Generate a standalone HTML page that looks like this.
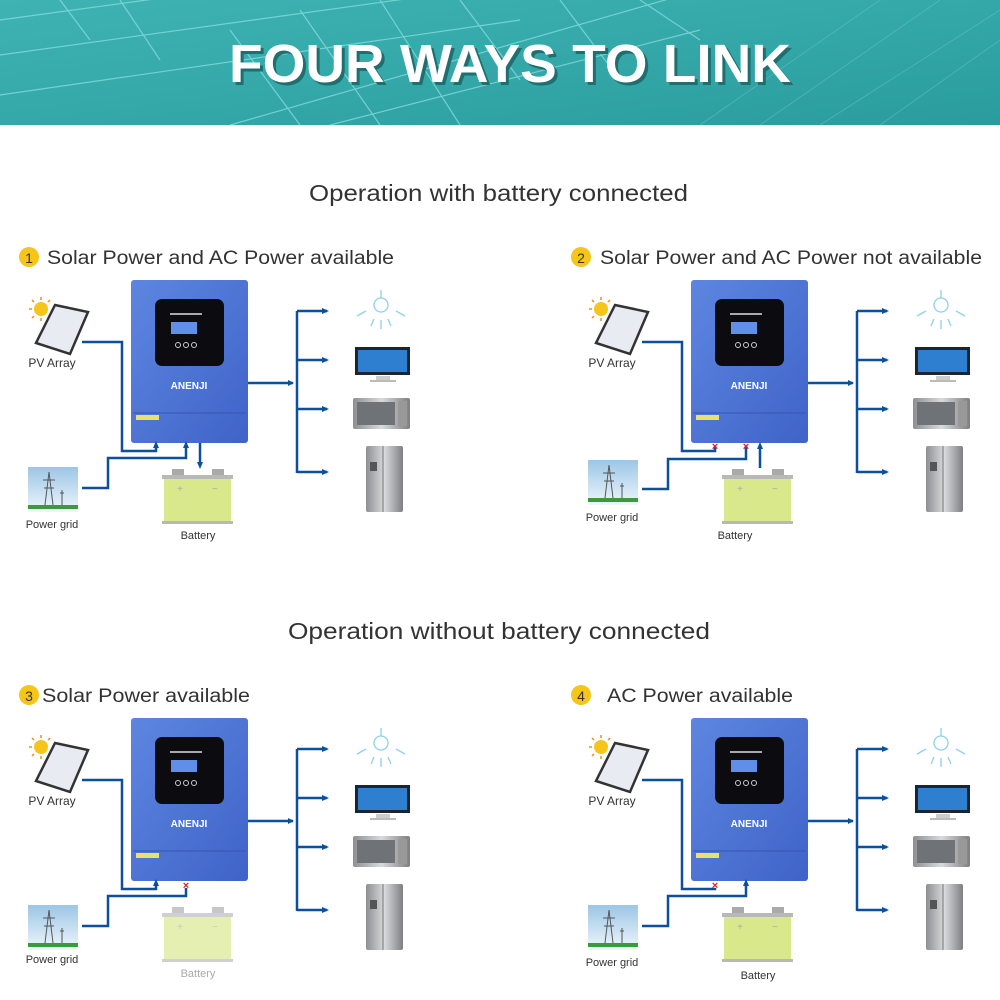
<!DOCTYPE html>
<html><head><meta charset="utf-8"><style>
html,body{margin:0;padding:0;background:#fff;}
svg{display:block;}
text{font-family:"Liberation Sans",sans-serif;}
</style></head><body>
<svg width="1000" height="1000" viewBox="0 0 1000 1000" xmlns="http://www.w3.org/2000/svg">
<defs>
 <linearGradient id="tealg" x1="0" y1="0" x2="1" y2="1">
  <stop offset="0" stop-color="#3fb3b3"/><stop offset="1" stop-color="#2a9c9e"/>
 </linearGradient>
 <linearGradient id="invg" x1="0" y1="0" x2="1" y2="1">
  <stop offset="0" stop-color="#5d86e0"/><stop offset="1" stop-color="#3f63c8"/>
 </linearGradient>
 <linearGradient id="skyg" x1="0" y1="0" x2="0" y2="1">
  <stop offset="0" stop-color="#9cc6e6"/><stop offset="1" stop-color="#eef6fb"/>
 </linearGradient>
 <linearGradient id="metal" x1="0" y1="0" x2="1" y2="0">
  <stop offset="0" stop-color="#8d8f93"/><stop offset="0.5" stop-color="#d9dadc"/><stop offset="1" stop-color="#7d7f83"/>
 </linearGradient>
 <marker id="ar" markerWidth="6" markerHeight="6" refX="5" refY="3" orient="auto" markerUnits="userSpaceOnUse">
  <path d="M0,0 L6,3 L0,6 z" fill="#0c4f9a"/>
 </marker>
 <g id="inv">
  <rect x="131" y="280" width="117" height="163" rx="3" fill="url(#invg)"/>
  <rect x="155" y="299" width="69" height="67" rx="7" fill="#0b0b10"/>
  <rect x="171" y="322" width="26" height="12" fill="#5f8fe8"/>
  <rect x="170" y="313" width="32" height="2" fill="#aaa"/>
  <circle cx="178" cy="345" r="2.5" fill="none" stroke="#ccc"/><circle cx="186" cy="345" r="2.5" fill="none" stroke="#ccc"/><circle cx="194" cy="345" r="2.5" fill="none" stroke="#ccc"/>
  <text x="189" y="389" font-size="10" font-weight="bold" fill="#fff" text-anchor="middle">ANENJI</text>
  <line x1="133" y1="413" x2="246" y2="413" stroke="#3556b0" stroke-width="1"/>
  <rect x="136" y="415" width="23" height="5" fill="#e8e070"/>
 </g>
 <g id="pv">
  <circle cx="41" cy="309" r="7" fill="#f7c51a"/>
  <g stroke="#f28a18" stroke-width="1.5">
   <line x1="41" y1="297" x2="41" y2="300"/><line x1="29" y1="309" x2="32" y2="309"/><line x1="32" y1="300" x2="34" y2="302"/><line x1="50" y1="300" x2="48" y2="302"/><line x1="32" y1="318" x2="34" y2="316"/><line x1="41" y1="321" x2="41" y2="318"/>
  </g>
  <polygon points="55,305 88,312 70,354 36,343" fill="#e8ecf2" stroke="#333" stroke-width="2.5"/>
  <text x="52" y="367" font-size="12" fill="#333" text-anchor="middle">PV Array</text>
 </g>
 <g id="bat">
  <rect x="172" y="469" width="12" height="6" fill="#aaa"/><rect x="212" y="469" width="12" height="6" fill="#aaa"/>
  <rect x="162" y="475" width="71" height="4" fill="#b8b8b8"/>
  <rect x="164" y="479" width="67" height="42" fill="#d8e88a"/>
  <rect x="162" y="521" width="71" height="3" fill="#b8b8b8"/>
  <text x="177" y="492" font-size="10" fill="#aab" >+</text><text x="212" y="492" font-size="10" fill="#aab">−</text>
 </g>
 <g id="loads">
  <path d="M248,383 H293" stroke="#0c4f9a" stroke-width="2.5" fill="none" marker-end="url(#ar)"/>
  <path d="M297,311 V473" stroke="#0c4f9a" stroke-width="2.5" fill="none"/>
  <path d="M297,311 H327 M297,360 H327 M297,409 H327 M297,472 H327" stroke="#0c4f9a" stroke-width="2.5" fill="none"/>
  <path d="M322,308 L329,311 L322,314z M322,357 L329,360 L322,363z M322,406 L329,409 L322,412z M322,469 L329,472 L322,475z" fill="#0c4f9a"/>
  <g stroke="#8fd0ea" stroke-width="1.3" fill="none">
   <circle cx="381" cy="305" r="7"/><line x1="381" y1="290" x2="381" y2="298"/>
   <line x1="357" y1="316" x2="366" y2="311"/><line x1="405" y1="316" x2="396" y2="311"/>
   <line x1="371" y1="326" x2="374" y2="319"/><line x1="391" y1="326" x2="388" y2="319"/><line x1="381" y1="329" x2="381" y2="320"/>
  </g>
  <rect x="355" y="347" width="55" height="28" fill="#1c2430"/><rect x="358" y="350" width="49" height="22" fill="#2f7fd0"/>
  <rect x="376" y="376" width="14" height="4" fill="#ccc"/><rect x="370" y="380" width="26" height="2" fill="#bbb"/>
  <rect x="353" y="398" width="57" height="31" rx="2" fill="url(#metal)"/><rect x="357" y="402" width="38" height="23" fill="#6f7277"/><rect x="398" y="401" width="9" height="25" fill="#999"/>
  <rect x="366" y="446" width="37" height="66" rx="2" fill="url(#metal)"/><line x1="383" y1="446" x2="383" y2="512" stroke="#777"/><rect x="370" y="462" width="7" height="9" fill="#555"/>
 </g>
 <g id="grid">
  <rect x="28" y="467" width="50" height="45" fill="url(#skyg)"/>
  <g stroke="#555" stroke-width="1" fill="none"><path d="M45,505 L49,472 L53,505 M43,480 H55 M44,488 H54"/><path d="M62,505 V490 M60,493 H64"/></g>
  <rect x="28" y="505" width="50" height="4" fill="#3c9a3a"/>
 </g>
</defs>

<!-- header -->
<rect x="0" y="0" width="1000" height="125" fill="url(#tealg)"/>
<g stroke="#8ee3e3" stroke-width="1.2" opacity="0.7" fill="none">
 <path d="M0,20 L440,-40 M0,55 L470,-10 M0,95 L520,20 M230,30 L300,125 M300,10 L380,125 M380,0 L460,125 M120,0 L160,60 M60,0 L90,40 M460,0 L520,80 M560,0 L620,80 M640,0 L700,40 M230,125 L700,-10 M330,125 L700,30"/>
</g>
<g stroke="#6fcccc" stroke-width="0.8" opacity="0.5" fill="none">
 <path d="M700,125 L880,0 M760,125 L940,0 M820,125 L1000,10 M880,125 L1000,40"/>
</g>
<text x="510" y="82" font-size="54" font-weight="bold" fill="#1f6f70" text-anchor="middle" textLength="562" lengthAdjust="spacingAndGlyphs" transform="translate(3,3)">FOUR WAYS TO LINK</text>
<text x="510" y="82" font-size="54" font-weight="bold" fill="#fff" text-anchor="middle" textLength="562" lengthAdjust="spacingAndGlyphs">FOUR WAYS TO LINK</text>

<text x="309" y="201" font-size="23" fill="#333" textLength="379" lengthAdjust="spacingAndGlyphs">Operation with battery connected</text>
<text x="288" y="639" font-size="23" fill="#333" textLength="422" lengthAdjust="spacingAndGlyphs">Operation without  battery connected</text>

<!-- headings -->
<circle cx="29" cy="257" r="10" fill="#f5c518"/><text x="29" y="263" font-size="14" fill="#333" text-anchor="middle">1</text>
<text x="47" y="264" font-size="19" fill="#333" textLength="347" lengthAdjust="spacingAndGlyphs">Solar Power and AC Power available</text>
<circle cx="581" cy="257" r="10" fill="#f5c518"/><text x="581" y="263" font-size="14" fill="#333" text-anchor="middle">2</text>
<text x="600" y="264" font-size="19" fill="#333" textLength="382" lengthAdjust="spacingAndGlyphs">Solar Power and AC Power not available</text>
<circle cx="29" cy="695" r="10" fill="#f5c518"/><text x="29" y="701" font-size="14" fill="#333" text-anchor="middle">3</text>
<text x="42" y="702" font-size="19" fill="#333" textLength="208" lengthAdjust="spacingAndGlyphs">Solar Power available</text>
<circle cx="581" cy="695" r="10" fill="#f5c518"/><text x="581" y="701" font-size="14" fill="#333" text-anchor="middle">4</text>
<text x="607" y="702" font-size="19" fill="#333" textLength="186" lengthAdjust="spacingAndGlyphs">AC Power available</text>

<!-- Panel 1 -->
<use href="#inv"/><use href="#pv"/><use href="#bat"/><use href="#loads"/><use href="#grid"/>
<text x="52" y="528" font-size="11" fill="#333" text-anchor="middle">Power grid</text>
<text x="198" y="539" font-size="11" fill="#333" text-anchor="middle">Battery</text>
<g stroke="#0c4f9a" stroke-width="2.5" fill="none">
 <path d="M82,342 H122 V451 H156 V447"/>
 <path d="M82,488 H108 V458 H186 V447"/>
 <path d="M200,443 V463"/>
</g>
<path d="M153,448 L156,441 L159,448z M183,448 L186,441 L189,448z M197,462 L200,469 L203,462z" fill="#0c4f9a"/>

<!-- Panel 2 -->
<g transform="translate(560,0)">
 <use href="#inv"/><use href="#pv"/><use href="#bat"/><use href="#loads"/>
 <use href="#grid" transform="translate(0,-7)"/>
 <g stroke="#0c4f9a" stroke-width="2.5" fill="none">
  <path d="M82,342 H122 V451 H155 V446"/>
  <path d="M82,489 H108 V459 H186 V446"/>
  <path d="M200,468 V448"/>
 </g>
 <path d="M197,449 L200,442 L203,449z" fill="#0c4f9a"/>
 <text x="155" y="450" font-size="11" font-weight="bold" fill="#e02020" text-anchor="middle">×</text>
 <text x="186" y="450" font-size="11" font-weight="bold" fill="#e02020" text-anchor="middle">×</text>
 <text x="52" y="521" font-size="11" fill="#333" text-anchor="middle">Power grid</text>
 <text x="175" y="539" font-size="11" fill="#333" text-anchor="middle">Battery</text>
</g>

<!-- Panel 3 -->
<g transform="translate(0,438)">
 <use href="#inv"/><use href="#pv"/><use href="#loads"/><use href="#grid"/>
 <use href="#bat" opacity="0.65"/>
 <g stroke="#0c4f9a" stroke-width="2.5" fill="none">
  <path d="M82,342 H122 V451 H156 V447"/>
  <path d="M82,488 H108 V458 H186 V450"/>
 </g>
 <path d="M153,448 L156,441 L159,448z" fill="#0c4f9a"/>
 <text x="186" y="451" font-size="11" font-weight="bold" fill="#e02020" text-anchor="middle">×</text>
 <text x="52" y="525" font-size="11" fill="#333" text-anchor="middle">Power grid</text>
 <text x="198" y="539" font-size="11" fill="#aaa" text-anchor="middle">Battery</text>
</g>

<!-- Panel 4 -->
<g transform="translate(560,438)">
 <use href="#inv"/><use href="#pv"/><use href="#bat"/><use href="#loads"/><use href="#grid"/>
 <g stroke="#0c4f9a" stroke-width="2.5" fill="none">
  <path d="M82,342 H122 V451 H155 V450"/>
  <path d="M82,488 H108 V458 H186 V447"/>
 </g>
 <path d="M183,448 L186,441 L189,448z" fill="#0c4f9a"/>
 <text x="155" y="451" font-size="11" font-weight="bold" fill="#e02020" text-anchor="middle">×</text>
 <text x="52" y="528" font-size="11" fill="#333" text-anchor="middle">Power grid</text>
 <text x="198" y="541" font-size="11" fill="#333" text-anchor="middle">Battery</text>
</g>
</svg>
</body></html>
